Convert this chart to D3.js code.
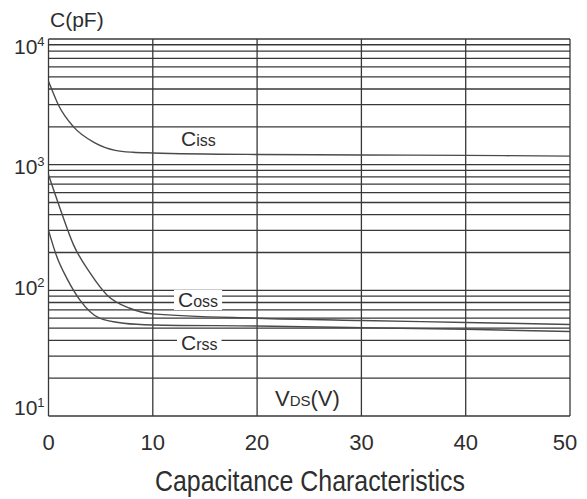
<!DOCTYPE html>
<html>
<head>
<meta charset="utf-8">
<script src="https://cdn.jsdelivr.net/npm/d3@7"></script>
<style>
  body { margin: 0; background: #fff; }
  text { font-family: "Liberation Sans", Arial, sans-serif; fill: #2e2e2e; }
</style>
</head>
<body>
<div id="chart"></div>
<script>
// data (VDS in V, capacitance in pF)
const cissV = [0, 0.3, 0.94, 2.4, 4.4, 6.4, 8.1, 10, 20, 30, 40, 50]
const cissC = [4600, 4000, 3000, 2000, 1500, 1300, 1255, 1240, 1205, 1195, 1185, 1170]
const cossV = [0, 1.1, 2.4, 4, 5.6, 7.8, 10, 20, 30, 40, 50]
const cossC = [830, 450, 230, 137, 92, 72, 65, 60, 57.5, 55.5, 53.5]
const crssV = [0, 0.8, 1.75, 3, 4.9, 7.2, 10, 20, 30, 40, 50]
const crssC = [300, 185, 125, 84, 60, 54.7, 53, 52, 50.5, 49, 47]

const xTicks = [0, 10, 20, 30, 40, 50]
const yDecades = [10, 100, 1000, 10000]
const yExponents = ['1', '2', '3', '4']

const chart = { width: 587, height: 499 }
const plot = { left: 48.5, right: 570, top: 39, bottom: 416 }
const gridColor = '#383838'

const xScale = d3.scaleLinear().domain([0, 50]).range([plot.left, plot.right])
const yScale = d3.scaleLog().domain([10, 1e4]).range([plot.bottom, plot.top])
// tick labels in the picture sit a bit more tightly than the grid
const yLabelScale = d3.scaleLog().domain([10, 1e4]).range([415, 54])

const svg = d3.select('#chart')
  .append('svg')
  .attr('width', chart.width)
  .attr('height', chart.height)

// grid
const grid = svg.append('g').attr('stroke', gridColor).attr('stroke-width', 1.3)
grid.selectAll('line.h')
  .data(yScale.ticks())
  .join('line')
  .attr('class', 'h')
  .attr('x1', plot.left).attr('x2', plot.right)
  .attr('y1', d => yScale(d)).attr('y2', d => yScale(d))
grid.selectAll('line.v')
  .data(xTicks)
  .join('line')
  .attr('class', 'v')
  .attr('x1', d => xScale(d)).attr('x2', d => xScale(d))
  .attr('y1', plot.top).attr('y2', plot.bottom)

// curves
const line = d3.line()
  .x(d => xScale(d[0]))
  .y(d => yScale(d[1]))
  .curve(d3.curveMonotoneX)

const series = [
  d3.zip(cissV, cissC),
  d3.zip(cossV, cossC),
  d3.zip(crssV, crssC)
]
svg.append('g')
  .selectAll('path')
  .data(series)
  .join('path')
  .attr('d', line)
  .attr('fill', 'none')
  .attr('stroke', '#4a4a4a')
  .attr('stroke-width', 1.4)

// labels on the curves
function curveLabel(x, y, sub, bg) {
  const t = svg.append('text')
    .attr('x', x).attr('y', y)
  t.append('tspan').attr('font-size', 21).text('C')
  t.append('tspan').attr('font-size', 16).text(sub)
  if (bg) {
    const b = t.node().getBBox()
    svg.insert('rect', 'text')
      .attr('x', b.x - 4).attr('y', b.y + 2)
      .attr('width', b.width + 8).attr('height', b.height - 3)
      .attr('fill', '#fff')
  }
}
curveLabel(181, 146, 'iss', false)
curveLabel(178, 307, 'oss', true)
curveLabel(181, 350, 'rss', true)

const vds = svg.append('text')
  .attr('x', 275).attr('y', 406)
vds.append('tspan').attr('font-size', 22).text('V')
vds.append('tspan').attr('font-size', 15).text('DS')
vds.append('tspan').attr('font-size', 22).text('(V)')

// y tick labels
const yLab = svg.append('g')
  .selectAll('text')
  .data(yDecades)
  .join('text')
  .attr('x', 14)
  .attr('y', d => yLabelScale(d))
yLab.append('tspan').attr('font-size', 21).text('10')
yLab.append('tspan').attr('font-size', 13).attr('dy', -8)
  .text((d, i) => yExponents[i])

// x tick labels
svg.append('g')
  .selectAll('text')
  .data(xTicks)
  .join('text')
  .attr('x', d => Math.min(xScale(d), 565))
  .attr('y', 450)
  .attr('text-anchor', 'middle')
  .attr('font-size', 22)
  .text(d => d)

// axis title and caption
svg.append('text')
  .attr('x', 50).attr('y', 27)
  .attr('font-size', 21)
  .text('C(pF)')

svg.append('text')
  .attr('x', 155).attr('y', 491)
  .attr('font-size', 29)
  .attr('textLength', 310)
  .attr('lengthAdjust', 'spacingAndGlyphs')
  .text('Capacitance Characteristics')
</script>
</body>
</html>
